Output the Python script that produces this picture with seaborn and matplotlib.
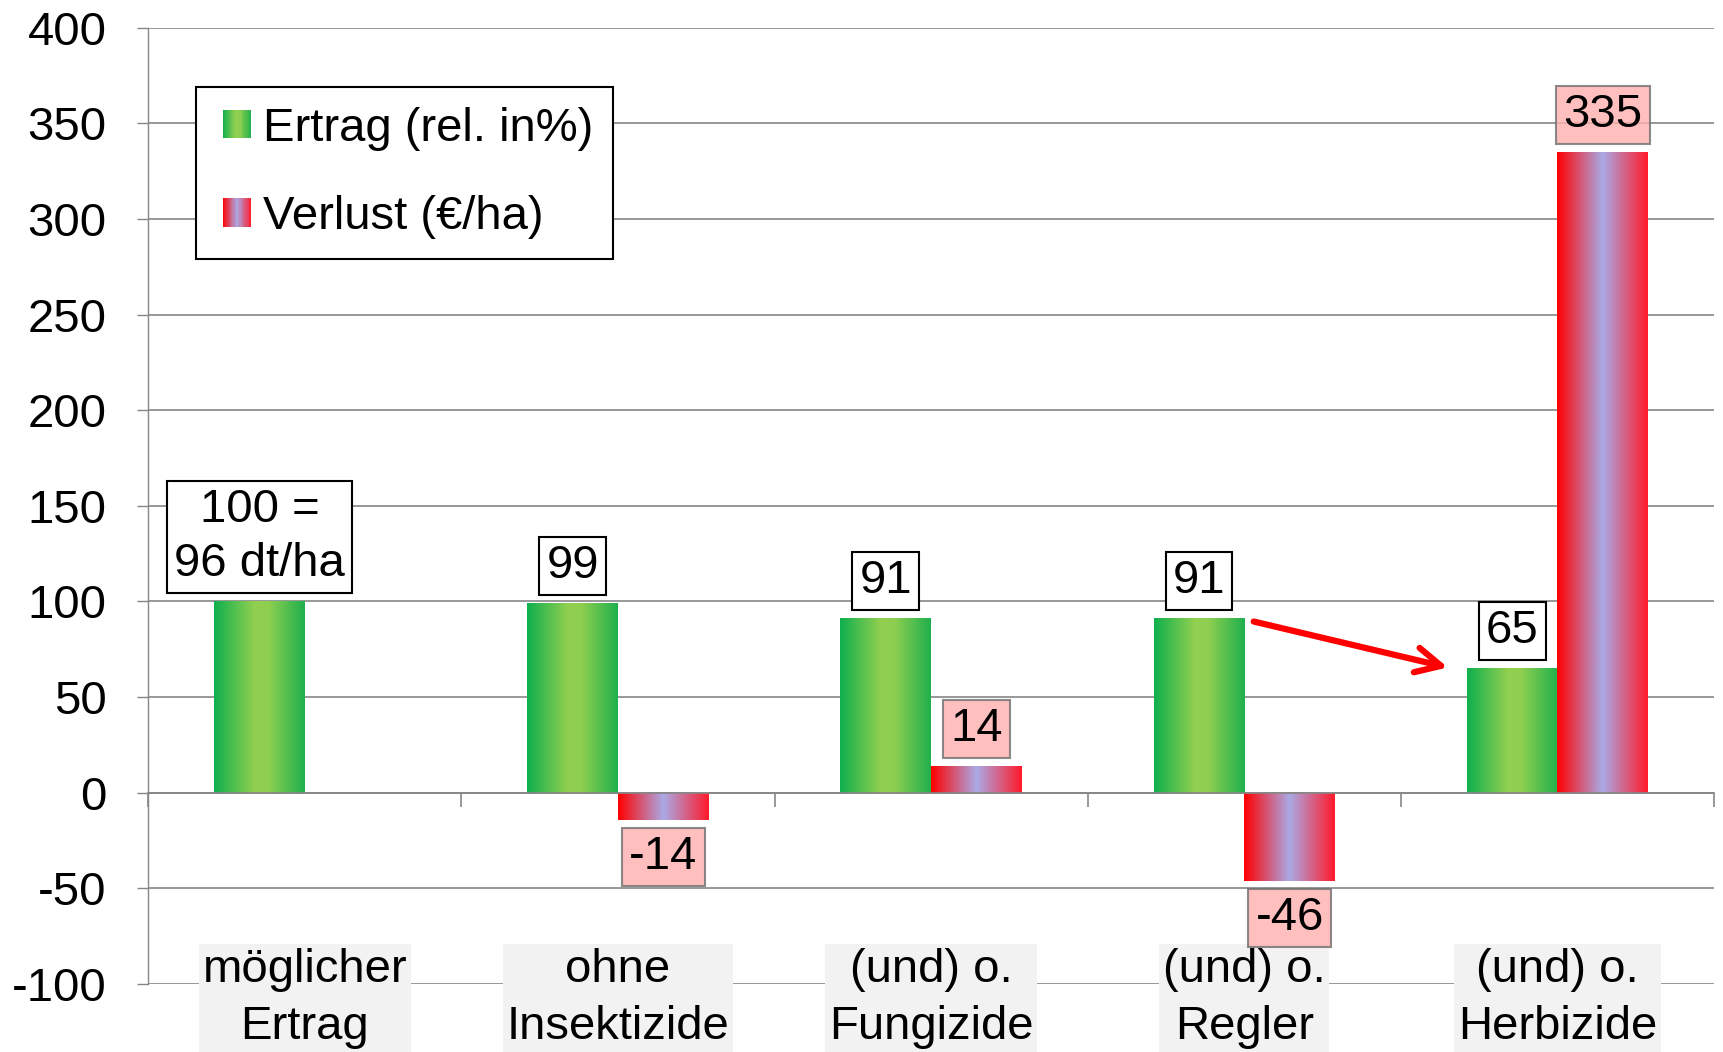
import numpy as np
import pandas as pd
import seaborn as sns
import matplotlib.pyplot as plt
from matplotlib.colors import LinearSegmentedColormap
from matplotlib.legend_handler import HandlerBase
from matplotlib.patches import Rectangle, Patch

# Daten
kategorien = ['möglicher\nErtrag', 'ohne\nInsektizide', '(und) o.\nFungizide',
              '(und) o.\nRegler', '(und) o.\nHerbizide']
serien = ['Ertrag (rel. in%)', 'Verlust (€/ha)']
ertrag = [100, 99, 91, 91, 65]
verlust = [np.nan, -14, 14, -46, 335]
ertrag_labels = ['100 =\n96 dt/ha', '99', '91', '91', '65']
verlust_labels = ['', '-14', '14', '-46', '335']
yticks = list(range(-100, 401, 50))

df = pd.DataFrame({
    'kategorie': kategorien * 2,
    'serie': [serien[0]] * len(kategorien) + [serien[1]] * len(kategorien),
    'wert': ertrag + verlust,
})

sns.set_style('white')
plt.rcParams['font.family'] = ['Liberation Sans', 'DejaVu Sans']
plt.rcParams['text.color'] = 'black'
plt.rcParams['ytick.labelcolor'] = 'black'
plt.rcParams['axes.unicode_minus'] = False

gruen = LinearSegmentedColormap.from_list(
    'gruen', [(0, '#0FAF4E'), (0.45, '#92D050'), (0.6, '#8ECF50'), (1, '#1FB04D')])
rot = LinearSegmentedColormap.from_list(
    'rot', [(0, '#FF0000'), (0.5, '#AAAAE6'), (1, '#FF1A2A')])

fig = plt.figure(figsize=(17.23, 10.52), dpi=100)
ax = fig.add_axes([0.0861, 0.0646, 0.9087, 0.9092])

sns.barplot(data=df, x='kategorie', y='wert', hue='serie', order=kategorien,
            hue_order=serien, width=0.58, palette=['#92D050', '#AAAAE6'],
            errorbar=None, legend=False, ax=ax)

grau = '#868686'
texte = [ertrag_labels, verlust_labels]
for k, (cont, cmap) in enumerate(zip(ax.containers, [gruen, rot])):
    for bar in cont:
        h = bar.get_height()
        if np.isnan(h):
            continue
        x0, w, y0 = bar.get_x(), bar.get_width(), bar.get_y()
        ax.imshow(np.linspace(0, 1, 256)[None, :], cmap=cmap,
                  extent=[x0, x0 + w, y0, y0 + h], aspect='auto',
                  interpolation='bilinear', zorder=2)
        bar.set_visible(False)

        i = int(round(x0 + w / 2))
        if k == 0:
            box = dict(boxstyle='square,pad=0.15', fc='white', ec='black', lw=1.5)
        else:
            box = dict(boxstyle='square,pad=0.15', fc='#FFB0B0', ec='#6E6E6E',
                       lw=1.5, alpha=0.8)
        ax.annotate(texte[k][i], xy=(x0 + w / 2, y0 + h),
                    xytext=(0, 11 if h >= 0 else -11), textcoords='offset points',
                    ha='center', va='bottom' if h >= 0 else 'top',
                    fontsize=34, linespacing=1.3, bbox=box, zorder=5,
                    annotation_clip=False)

# Kategorien unten
for i, kat in enumerate(kategorien):
    ax.text(i, -81, kat, ha='center', va='top', fontsize=34, linespacing=1.38,
            bbox=dict(boxstyle='square,pad=0.08', fc='#F2F2F2', ec='none'),
            clip_on=False, zorder=1)

# Pfeil
ax.annotate('', xy=(3.65, 65.5), xytext=(3.03, 89.5),
            arrowprops=dict(arrowstyle='->,head_length=0.9,head_width=0.45',
                            color='#FF0000', lw=4.5, mutation_scale=20,
                            shrinkA=0, shrinkB=0), zorder=6)

ax.set_xlim(-0.5, 4.5)
ax.set_ylim(-100, 400)
ax.set_yticks(yticks)
ax.set_xticks(np.arange(-0.5, 4.6, 1))
ax.set_xticklabels([])
ax.set_xlabel('')
ax.set_ylabel('')
ax.tick_params(axis='y', left=True, length=8, width=1, color=grau,
               labelsize=34, labelcolor='black', pad=22)
ax.tick_params(axis='x', bottom=True, direction='out', length=10, width=1.2,
               color=grau)
ax.yaxis.grid(True, color=grau, lw=1.2)
ax.set_axisbelow(True)

for s in ['top', 'right']:
    ax.spines[s].set_visible(False)
ax.spines['left'].set_color(grau)
ax.spines['left'].set_linewidth(1)
ax.spines['bottom'].set_position(('data', 0))
ax.spines['bottom'].set_color(grau)
ax.spines['bottom'].set_linewidth(1.2)


class Verlauf(HandlerBase):
    # quadratisches Symbol mit Farbverlauf, rechts im Handle-Bereich
    def __init__(self, cmap):
        super().__init__()
        self.cmap = cmap

    def create_artists(self, legend, orig_handle, xdescent, ydescent,
                       width, height, fontsize, trans):
        n = 24
        x_start = -xdescent + width - height
        return [Rectangle((x_start + height * j / n, -ydescent), height / n * 1.05,
                          height, fc=self.cmap((j + 0.5) / n), ec='none',
                          transform=trans) for j in range(n)]


h1, h2 = Patch(), Patch()
leg = ax.legend([h1, h2], serien, handler_map={h1: Verlauf(gruen), h2: Verlauf(rot)},
                loc='upper left', bbox_to_anchor=(196 / 1723, 1 - 87 / 1052),
                bbox_transform=fig.transFigure, borderaxespad=0, fontsize=34,
                frameon=True, fancybox=False, edgecolor='black', framealpha=1,
                handlelength=0.75, handleheight=0.55, handletextpad=0.25,
                labelspacing=0.94, borderpad=0.42)
leg.get_frame().set_linewidth(1.5)
for t in leg.get_texts():
    t.set_color('black')

fig.savefig('out.png', dpi=100)
